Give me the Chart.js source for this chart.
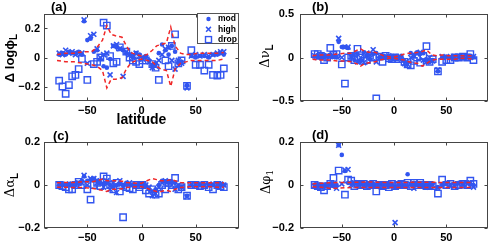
<!DOCTYPE html>
<html>
<head>
<meta charset="utf-8">
<script src="https://cdn.jsdelivr.net/npm/chart.js@4.4.1/dist/chart.umd.min.js"></script>
<style>
html, body { margin: 0; padding: 0; background: #fff; }
#wrap { position: relative; width: 494px; height: 241px; overflow: hidden; }
canvas { position: absolute; }
</style>
</head>
<body>
<div id="wrap">
  <canvas id="pa" width="247" height="128" style="left:0px;top:0px"></canvas>
  <canvas id="pb" width="247" height="128" style="left:247px;top:0px"></canvas>
  <canvas id="pc" width="247" height="113" style="left:0px;top:128px"></canvas>
  <canvas id="pd" width="247" height="113" style="left:247px;top:128px"></canvas>
</div>
<script>
// latitudes of the stations (shared by all markers)
const lat = [-76,-73,-70,-67,-64,-61,-58,-55,-53,-50,-47,-44,-41,-38,-35,-32,-29,-26,-23,-20,-17,-14,-11,-8,-5,-2,1,4,7,10,13,16,19,22,25,28,31,34,37,42,46,50,54,58,62,66,70,73,76];
// latitudes of the red dashed envelope
const redLat = [-78,-70,-62,-54,-46,-41,-36,-32,-28,-24,-18,-14,-10,-5,0,5,10,14,18,23,27,31,36,41,46,52,58,64,70,76];

const xTicks = [-50, 0, 50];
const xRange = [-90, 90];

// (a) delta log phi_L
const aMod = [0.02,0.03,0.02,0.04,0.03,0.03,0.04,0.02,0.25, 0.12,0.13,0.04,0.05,-0.01,-0.06,-0.07,-0.01,0.08,0.07,0.06,0.05,0.03,0.02,0.01,0.03,0.02, 0.0,0.01,-0.02,-0.05,-0.04,0.03,0.09,0.05,0.02,0.08,0.04,-0.04,-0.03, -0.19,0.01,0.0,0.01,0.01,0.0,0.02,0.02,0.03,0.02];
const aHigh = [0.03,0.02,0.05,0.03,0.04,0.02,0.03,0.03,0.26, -0.04,0.15,0.16,0.06,0.0,0.02,0.03,-0.12,0.08,0.09,0.06,-0.13,0.04,0.02,0.0,0.03,0.01, -0.01,0.0,-0.03,-0.07,-0.06,-0.02,0.02,0.06,0.07,-0.02,-0.08,-0.02,-0.04, -0.21,0.01,0.02,0.01,0.02,0.01,0.02,0.03,0.04,0.04];
const aDrop = [-0.16,-0.2,-0.25,-0.19,-0.13,-0.12,-0.08,-0.01,null, -0.155,null,-0.045,-0.03,0.0,0.24,0.22,0.01,-0.04,-0.03,0.07,null,0.04,0.0,-0.02,-0.03,-0.045, -0.02,-0.02,null,-0.045,-0.07,-0.155,null,-0.02,-0.06,0.08,0.16,-0.04,-0.02, -0.195,0.05,-0.05,-0.05,-0.09,-0.05,-0.12,-0.125,-0.12,-0.075];
const aUp = [0.02,0.03,0.03,0.04,0.04,0.07,0.12,0.22,0.16,0.15, 0.14,0.08,0.035,0.02,0.01,0.02,0.05,0.08,0.09,0.1, 0.21,0.08,0.03,0.02,0.02,0.03,0.03,0.03,0.03,0.035];
const aLo = [-0.02,-0.03,-0.03,-0.04,-0.05,-0.06,-0.09,-0.21,-0.15,-0.15, -0.14,-0.08,-0.04,-0.02,-0.01,-0.02,-0.03,-0.06,-0.08,-0.09, -0.2,-0.08,-0.04,-0.03,-0.02,-0.02,-0.02,-0.02,-0.02,-0.01];
const aTicks = [-0.2, 0, 0.2];

// (b) delta nu_L
const bMod = [0.01,0.02,0.0,0.02,0.01,0.03,0.01,0.0,0.18, 0.12,0.12,0.11,0.02,-0.03,0.04,-0.04,0.06,0.02,-0.02,0.04,0.05,0.0,0.02,0.01,0.0,0.01, 0.0,-0.01,0.02,-0.04,-0.06,0.05,0.03,0.06,0.04,0.05,-0.02,-0.05,-0.03, -0.16,0.0,0.01,0.0,0.01,0.0,0.01,0.0,0.01,0.0];
const bHigh = [0.02,0.0,0.03,0.0,0.02,0.01,0.02,0.01,0.22, 0.0,0.12,0.12,0.01,0.03,-0.05,0.0,-0.06,0.05,0.03,0.09,-0.05,0.02,0.01,0.0,0.02,-0.01, 0.01,0.0,-0.02,-0.07,-0.08,0.0,0.02,0.04,0.06,-0.03,-0.05,0.0,-0.04, -0.14,0.01,0.0,0.01,0.0,0.01,0.0,0.01,0.0,0.01];
const bDrop = [0.04,0.04,0.02,-0.03,0.0,0.11,0.03,0.04,null, -0.08,-0.3,0.0,0.02,-0.03,0.1,0.0,-0.04,-0.03,0.02,0.0,-0.47,0.01,-0.05,0.02,-0.01,-0.02, 0.0,-0.02,null,-0.05,-0.08,-0.09,-0.04,0.0,-0.06,0.02,0.13,-0.05,-0.02, -0.16,-0.05,-0.03,-0.03,0.0,0.0,0.01,0.0,0.04,-0.03];
const bUp = [0.02,0.03,0.03,0.04,0.05,0.05,0.08,0.1,0.07,0.06, 0.06,0.04,0.02,0.01,0.01,0.02,0.04,0.05,0.05,0.06, 0.07,0.09,0.03,0.02,0.03,0.02,0.02,0.02,0.02,0.02];
const bLo = [-0.02,-0.03,-0.03,-0.04,-0.04,-0.05,-0.07,-0.1,-0.07,-0.06, -0.05,-0.03,-0.02,-0.01,-0.01,-0.02,-0.03,-0.05,-0.06,-0.07, -0.1,-0.07,-0.03,-0.02,-0.02,-0.02,-0.02,-0.01,-0.01,-0.02];
const bTicks = [-0.5, 0, 0.5];

// (c) delta alpha_L
const cMod = [0.0,0.0,0.0,0.005,0.0,0.005,0.01,0.02,0.04, 0.02,0.025,0.03,0.02,0.01,0.005,0.01,0.0,-0.01,0.0,0.005,0.0,0.01,0.005,0.0,0.0,0.005, 0.0,-0.005,-0.02,-0.03,-0.02,0.0,0.02,0.015,0.01,0.015,0.01,-0.005,-0.01, -0.05,0.0,0.0,0.0,0.0,0.0,0.0,0.0,0.0,0.0];
const cHigh = [0.005,0.0,0.005,0.0,0.005,0.0,0.01,0.01,0.045, 0.0,0.03,0.03,0.01,0.02,-0.01,0.02,-0.02,0.01,-0.035,0.02,-0.01,0.0,0.01,0.0,0.0,0.0, 0.005,0.0,-0.01,-0.05,-0.04,-0.01,0.01,0.02,0.015,0.0,-0.02,0.0,-0.01, -0.055,0.005,0.0,0.005,0.0,0.0,0.005,0.0,0.005,0.0];
const cDrop = [0.0,-0.005,-0.01,-0.02,-0.02,0.0,0.015,0.0,null, -0.02,-0.068,0.0,0.01,-0.005,0.04,0.03,0.0,-0.02,0.01,-0.03,-0.15,-0.01,-0.015,-0.02,0.0,-0.01, 0.0,-0.025,-0.04,-0.02,-0.045,-0.04,0.0,-0.02,0.01,0.0,0.033,-0.02,-0.01, -0.05,0.0,0.0,-0.005,0.0,-0.01,-0.02,0.0,-0.005,-0.01];
const cUp = [0.01,0.012,0.012,0.015,0.015,0.02,0.028,0.02,0.02,0.02, 0.018,0.012,0.01,0.008,0.008,0.02,0.03,0.025,0.02,0.02, 0.025,0.02,0.012,0.01,0.01,0.01,0.01,0.01,0.01,0.01];
const cLo = [-0.01,-0.01,-0.012,-0.012,-0.015,-0.02,-0.025,-0.03,-0.02,-0.02, -0.018,-0.012,-0.01,-0.008,-0.008,-0.015,-0.025,-0.03,-0.03,-0.025, -0.03,-0.02,-0.012,-0.01,-0.008,-0.008,-0.008,-0.008,-0.01,-0.01];
const cTicks = [-0.2, 0, 0.2];

// (d) delta phi_1
const dMod = [0.0,-0.005,0.0,-0.005,0.0,0.005,-0.005,0.0,0.185, 0.14,0.065,0.01,0.01,0.005,0.01,0.005,0.0,0.005,0.0,0.005,0.0,0.005,0.0,0.005,-0.005,0.0, -0.01,0.0,0.0,-0.005,0.05,0.005,0.01,0.0,0.005,0.0,-0.005,0.0,0.005, -0.01,0.0,0.005,0.0,0.005,0.01,0.005,0.01,0.005,0.0];
const dHigh = [-0.005,0.0,-0.01,0.0,-0.005,0.0,0.005,-0.015,0.185, 0.005,0.07,0.072,0.0,0.01,0.0,0.005,-0.005,0.0,0.005,-0.005,0.0,-0.005,0.005,0.0,0.005,-0.005, -0.175,0.005,-0.005,0.0,-0.005,0.005,-0.015,0.005,0.0,-0.005,0.005,-0.01,0.0, -0.015,-0.005,0.005,0.0,-0.005,0.005,0.0,0.005,0.01,-0.01];
const dDrop = [0.0,-0.005,-0.01,-0.025,-0.005,0.005,0.033,null,0.067, null,-0.045,0.025,0.02,-0.005,0.005,0.0,0.005,-0.005,0.0,0.005,-0.03,0.0,-0.005,0.0,-0.01,0.005, -0.005,0.0,0.005,0.0,0.01,-0.005,0.01,0.0,0.01,0.0,-0.005,0.0,-0.005, -0.04,0.025,0.0,0.005,-0.005,0.0,0.005,0.0,0.02,0.005];
const dUp = [0.005,0.008,0.01,0.012,0.012,0.012,0.013,0.013,0.014,0.014, 0.013,0.013,0.012,0.012,0.012,0.012,0.012,0.012,0.013,0.013, 0.013,0.013,0.013,0.012,0.012,0.012,0.012,0.012,0.012,0.012];
const dLo = [-0.008,-0.01,-0.015,-0.015,-0.013,-0.012,-0.012,-0.012,-0.012,-0.012, -0.012,-0.012,-0.012,-0.012,-0.012,-0.012,-0.012,-0.012,-0.012,-0.012, -0.012,-0.012,-0.012,-0.012,-0.012,-0.012,-0.012,-0.012,-0.012,-0.01];
const dTicks = [-0.2, 0, 0.2];

const seriesNames = ['mod', 'high', 'drop'];

const BLUE = 'rgb(50,85,240)';
const RED = 'rgb(240,40,40)';
const FONT = 'Liberation Sans, Arial, sans-serif';

// nombres style matlab : signe moins long
const fmt = v => (v === 0 ? '0' : String(v).replace('-', '\u2212'));

function pts(xs, ys) {
  const out = [];
  xs.forEach((x, i) => { if (ys[i] !== null && ys[i] !== undefined) out.push({ x: x, y: ys[i] }); });
  return out;
}

// small marker helper (legend)
function marker(ctx, style, x, y) {
  ctx.save();
  ctx.strokeStyle = BLUE; ctx.fillStyle = BLUE;
  if (style === 'circle') {
    ctx.beginPath(); ctx.arc(x, y, 2.2, 0, Math.PI * 2); ctx.fill();
  } else if (style === 'crossRot') {
    ctx.lineWidth = 1.5; ctx.beginPath();
    ctx.moveTo(x - 2.4, y - 2.4); ctx.lineTo(x + 2.4, y + 2.4);
    ctx.moveTo(x - 2.4, y + 2.4); ctx.lineTo(x + 2.4, y - 2.4); ctx.stroke();
  } else {
    ctx.lineWidth = 1.4; ctx.strokeRect(x - 3, y - 3, 6, 6);
  }
  ctx.restore();
}

// boite, petits ticks internes, titres
const matlabAxes = {
  id: 'matlabAxes',
  afterDatasetsDraw(chart, args, o) {
    const { ctx, chartArea: a } = chart;
    const sx = chart.scales.x, sy = chart.scales.y;
    ctx.save();
    const L = Math.round(a.left) + 0.5, R = Math.round(a.right) - 0.5;
    const T = Math.round(a.top) + 0.5, B = Math.round(a.bottom) - 0.5;
    ctx.strokeStyle = '#454545';
    ctx.lineWidth = 1;
    ctx.strokeRect(L, T, R - L, B - T);
    ctx.beginPath();
    xTicks.forEach(v => {
      const p = Math.round(sx.getPixelForValue(v)) + 0.5;
      ctx.moveTo(p, B); ctx.lineTo(p, B - 3);
      ctx.moveTo(p, T); ctx.lineTo(p, T + 3);
    });
    o.yTicks.forEach(v => {
      const p = Math.round(sy.getPixelForValue(v)) + 0.5;
      ctx.moveTo(L, p); ctx.lineTo(L + 3, p);
      ctx.moveTo(R, p); ctx.lineTo(R - 3, p);
    });
    ctx.stroke();

    ctx.fillStyle = '#000';
    // panel letter
    ctx.font = 'bold 13px ' + FONT;
    ctx.textAlign = 'left'; ctx.textBaseline = 'middle';
    ctx.fillText(o.letter, o.letterX, o.letterY);

    // y title with subscript
    ctx.save();
    ctx.translate(o.titleX, o.titleY);
    ctx.rotate(-Math.PI / 2);
    ctx.textBaseline = 'middle';
    let total = 0;
    o.title.forEach(p => { ctx.font = p.font; total += ctx.measureText(p.t).width; });
    let cx = -total / 2;
    o.title.forEach(p => {
      ctx.font = p.font;
      ctx.fillText(p.t, cx, p.dy || 0);
      cx += ctx.measureText(p.t).width;
    });
    ctx.restore();

    if (o.xTitle) {
      ctx.font = 'bold 14px ' + FONT;
      ctx.textAlign = 'center'; ctx.textBaseline = 'middle';
      ctx.fillText(o.xTitle, (a.left + a.right) / 2, o.xTitleY);
    }

    if (o.legend) {
      const lx = 197, ly = 13, lw = 42, lh = 31;
      ctx.fillStyle = '#fff';
      ctx.fillRect(lx, ly, lw, lh);
      ctx.strokeStyle = '#555';
      ctx.strokeRect(lx + 0.5, ly + 0.5, lw - 1, lh - 1);
      const styles = ['circle', 'crossRot', 'rect'];
      ctx.font = 'bold 8.5px ' + FONT;
      ctx.textAlign = 'left'; ctx.textBaseline = 'middle';
      seriesNames.forEach((n, i) => {
        const yy = ly + 6 + i * 10.3;
        marker(ctx, styles[i], lx + 11.5, yy);
        ctx.fillStyle = '#000';
        ctx.fillText(n, lx + 21, yy);
      });
    }
    ctx.restore();
  }
};

function makePanel(id, cfg) {
  const datasets = [
    { data: pts(redLat, cfg.up), showLine: true, borderColor: RED, borderWidth: 1.5, borderDash: [4, 3], pointRadius: 0, order: 0 },
    { data: pts(redLat, cfg.lo), showLine: true, borderColor: RED, borderWidth: 1.5, borderDash: [4, 3], pointRadius: 0, order: 0 },
    { label: 'drop', data: pts(lat, cfg.drop), pointStyle: 'rect', pointRadius: 4.5, borderColor: BLUE, backgroundColor: 'rgba(0,0,0,0)', pointBorderWidth: 1.4, order: 1 },
    { label: 'high', data: pts(lat, cfg.high), pointStyle: 'crossRot', pointRadius: 3.5, borderColor: BLUE, pointBorderWidth: 1.6, order: 2 },
    { label: 'mod', data: pts(lat, cfg.mod), pointStyle: 'circle', pointRadius: 2.3, backgroundColor: BLUE, borderColor: BLUE, pointBorderWidth: 0, order: 3 }
  ];
  const tickFont = { family: FONT, size: 11, weight: 'bold' };
  new Chart(document.getElementById(id), {
    type: 'scatter',
    data: { datasets: datasets },
    options: {
      responsive: false,
      animation: false,
      devicePixelRatio: 1,
      layout: { padding: { left: 0, right: cfg.padR, top: 14, bottom: 0 } },
      plugins: {
        legend: { display: false },
        tooltip: { enabled: false },
        matlabAxes: cfg.deco
      },
      scales: {
        x: {
          type: 'linear', min: xRange[0], max: xRange[1],
          grid: { display: false, drawTicks: false },
          border: { display: false },
          afterBuildTicks: s => { s.ticks = xTicks.map(v => ({ value: v })); },
          afterFit: s => { s.height = cfg.xH; },
          ticks: { font: tickFont, color: '#000', padding: 3, maxRotation: 0, callback: v => fmt(v) }
        },
        y: {
          type: 'linear', min: cfg.range[0], max: cfg.range[1],
          grid: { display: false, drawTicks: false },
          border: { display: false },
          afterBuildTicks: s => { s.ticks = cfg.ticks.map(v => ({ value: v })); },
          afterFit: s => { s.width = cfg.yW; },
          ticks: { font: tickFont, color: '#000', padding: cfg.yPad, callback: v => fmt(v) }
        }
      }
    },
    plugins: [matlabAxes]
  });
}

const bold13 = 'bold 13px ' + FONT;
const norm13 = '13px ' + 'DejaVu Serif, serif';
const sub = 'bold 10px ' + FONT;

makePanel('pa', {
  mod: aMod, high: aHigh, drop: aDrop, up: aUp, lo: aLo, ticks: aTicks, range: [-0.3, 0.3],
  yW: 44, padR: 8, xH: 27, yPad: 4,
  deco: { yTicks: aTicks, letter: '(a)', letterX: 51, letterY: 7,
    title: [{ t: '\u0394 log\u03D5', font: bold13 }, { t: 'L', font: sub, dy: 4 }],
    titleX: 10, titleY: 58, xTitle: 'latitude', xTitleY: 120, legend: true }
});
makePanel('pb', {
  mod: bMod, high: bHigh, drop: bDrop, up: bUp, lo: bLo, ticks: bTicks, range: [-0.5, 0.5],
  yW: 53, padR: 1, xH: 27, yPad: 6,
  deco: { yTicks: bTicks, letter: '(b)', letterX: 65, letterY: 7,
    title: [{ t: '\u0394\u03BD', font: norm13 }, { t: 'L', font: sub, dy: 4 }],
    titleX: 19, titleY: 56 }
});
makePanel('pc', {
  mod: cMod, high: cHigh, drop: cDrop, up: cUp, lo: cLo, ticks: cTicks, range: [-0.2, 0.2],
  yW: 44, padR: 8, xH: 13, yPad: 4,
  deco: { yTicks: cTicks, letter: '(c)', letterX: 53, letterY: 8,
    title: [{ t: '\u0394\u03B1', font: norm13 }, { t: 'L', font: sub, dy: 4 }],
    titleX: 11, titleY: 57 }
});
makePanel('pd', {
  mod: dMod, high: dHigh, drop: dDrop, up: dUp, lo: dLo, ticks: dTicks, range: [-0.2, 0.2],
  yW: 53, padR: 1, xH: 13, yPad: 6,
  deco: { yTicks: dTicks, letter: '(d)', letterX: 65, letterY: 7,
    title: [{ t: '\u0394\u03C6', font: norm13 }, { t: '1', font: '9px DejaVu Serif, serif', dy: 4 }],
    titleX: 20, titleY: 54 }
});
</script>
</body>
</html>
